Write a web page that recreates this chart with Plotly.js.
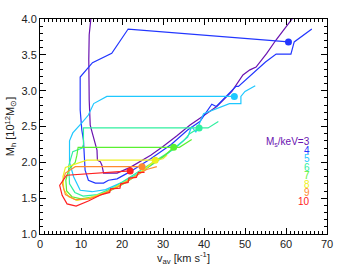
<!DOCTYPE html>
<html><head><meta charset="utf-8">
<script src="https://cdn.plot.ly/plotly-3.0.1.min.js"></script>
<style>html,body{margin:0;padding:0;background:#fff}#plot{width:340px;height:272px}</style>
</head><body><div id="plot"></div>
<script>
// Ms/keV labels
var msLabels = ["M<sub>s</sub>/keV=3","4","5","6","7","8","9","10"];
var colors = ["#6a12b0","#2236ff","#1ec8ff","#30f0a0","#5af030","#eef020","#ff8a30","#ff2020"];

var x3 = [12.5,12.4,12.0,11.9,12.0,12.25,12.8,13.9,14.0,14.7,15.1,15.5,18.8,22,27,30,33.4,36.6,39.1,43.1,46.8,49.5,51.2,52.7,55.3,57.6,61.6,63];
var y3 = [4.3,4.0,3.78,3.43,2.87,2.52,2.4,2.17,2.03,2.01,1.96,1.85,1.85,1.93,2.1,2.22,2.37,2.52,2.62,2.78,2.99,3.22,3.29,3.33,3.52,3.71,4.01,4.2];

var x4 = [60.6,21.5,17.5,12.8,9.8,9.8,10.2,10.6,11.0,11.8,13.5,15.5,16.7,18.8,22,27,32,36,39,41.9,43,45,47.8,48.4,52,55,57.6,61.2,62,66.3];
var y4 = [3.68,3.86,3.52,3.39,3.19,2.73,2.45,2.31,1.89,1.75,1.71,1.71,1.75,1.77,1.87,2.05,2.25,2.45,2.57,2.81,2.78,2.9,3.06,3.06,3.25,3.4,3.51,3.51,3.68,3.86];

var x5 = [47.4,16.3,13.1,11.8,10.2,8.0,7.2,7.2,8.2,9.8,12.7,16,20,25,30,34,36,37,38,39.9,46.2,49.0,49.0,50.0,52.5];
var y5 = [2.92,2.92,2.82,2.66,2.55,2.41,2.3,2.0,1.80,1.61,1.59,1.62,1.72,1.88,2.07,2.25,2.35,2.5,2.42,2.68,2.82,2.82,2.92,2.99,3.07];

var x6 = [38.8,10.6,10.6,10.3,8.0,7.0,7.2,8.5,10.5,14,18,22,26,30,33,35,36.5,38.8,41,43.5];
var y6 = [2.48,2.48,2.25,2.2,2.15,1.95,1.7,1.58,1.53,1.55,1.65,1.8,1.95,2.1,2.2,2.3,2.4,2.48,2.48,2.57];

var x7 = [32.6,9.3,9.0,8.6,7.0,6.3,6.5,7.8,10,13,17,21,25,28,30.5,32.6,34,37.0];
var y7 = [2.21,2.21,2.1,2.0,1.9,1.75,1.6,1.52,1.49,1.52,1.6,1.72,1.88,2.0,2.1,2.21,2.21,2.32];

var x8 = [28.1,11.4,6.2,5.6,5.8,7,9,12,16,20,23,25.5,28.1,30,31];
var y8 = [2.03,2.03,1.93,1.8,1.62,1.52,1.47,1.5,1.58,1.7,1.8,1.9,2.03,2.05,2.1];

var x9 = [24.9,9.8,8.6,6.2,5.4,6.2,8.6,12,15,19,22,24,26,28.5];
var y9 = [1.94,1.94,1.94,1.85,1.71,1.55,1.48,1.49,1.55,1.66,1.76,1.83,1.9,1.94];

var x10 = [22,6.5,4.8,5.4,6.6,8.8,11.8,15,17,17.2,19.5,19.7,21.5,21.7,23.5,24,25.5];
var y10 = [1.88,1.82,1.68,1.54,1.42,1.39,1.46,1.55,1.58,1.63,1.64,1.70,1.72,1.78,1.79,1.86,1.86];

// end markers (series 4..10)
var markX = [60.6,47.4,38.8,32.6,28.1,24.9,22.0];
var markY = [3.68,2.92,2.48,2.21,2.03,1.94,1.88];

var xs = [x3,x4,x5,x6,x7,x8,x9,x10];
var ys = [y3,y4,y5,y6,y7,y8,y9,y10];
var traces = [];
for (var i = 0; i < xs.length; i++) {
  traces.push({x: xs[i], y: ys[i], mode: 'lines', type: 'scatter',
    line: {color: colors[i], width: 1.2}, hoverinfo: 'skip'});
}
for (var j = 0; j < markX.length; j++) {
  traces.push({x: [markX[j]], y: [markY[j]], mode: 'markers', type: 'scatter',
    marker: {color: colors[j+1], size: 7}, hoverinfo: 'skip'});
}

var annotations = [];
for (var k = 0; k < msLabels.length; k++) {
  annotations.push({xref: 'paper', yref: 'paper', x: 0.948, y: 0.428 - k*0.0395,
    xanchor: 'right', yanchor: 'middle', showarrow: false, text: msLabels[k],
    font: {family: 'Liberation Sans, Arial, sans-serif', size: 10, color: colors[k]}});
}

var axisCommon = {
  showgrid: false, zeroline: false, showline: true, linecolor: '#000', linewidth: 1,
  mirror: 'allticks', ticks: 'inside', ticklen: 6, tickcolor: '#000', tickwidth: 1,
  tickfont: {family: 'Liberation Sans, Arial, sans-serif', size: 11, color: '#222'}
};
var layout = {
  width: 340, height: 272,
  margin: {l: 40, r: 13, t: 19, b: 38},
  paper_bgcolor: '#fff', plot_bgcolor: '#fff',
  showlegend: false,
  xaxis: Object.assign({}, axisCommon, {
    range: [0, 70], dtick: 10, tick0: 0,
    minor: {dtick: 1, ticklen: 3, ticks: 'inside', tickcolor: '#000'},
    title: {text: 'v<sub>av</sub> [km s<sup>-1</sup>]', standoff: 0,
      font: {family: 'Liberation Sans, Arial, sans-serif', size: 11, color: '#222'}}
  }),
  yaxis: Object.assign({}, axisCommon, {
    range: [1.0, 4.0], dtick: 0.5, tick0: 1, tickformat: '.1f',
    minor: {dtick: 0.1, ticklen: 3, ticks: 'inside', tickcolor: '#000'},
    title: {text: 'M<sub>h</sub> [10<sup>12</sup>M<sub>⊙</sub>]', standoff: 4,
      font: {family: 'Liberation Sans, Arial, sans-serif', size: 11, color: '#222'}}
  }),
  annotations: annotations
};
Plotly.newPlot('plot', traces, layout, {staticPlot: true, displayModeBar: false});
</script></body></html>
